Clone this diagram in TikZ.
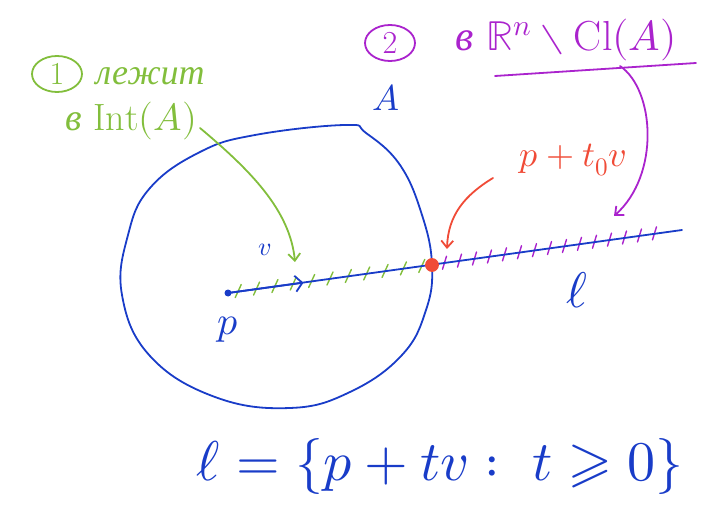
\documentclass[tikz,border=0pt]{standalone}
\usepackage{fontspec}
\usepackage{unicode-math}
\newfontfamily\rufont{Liberation Serif}
\usetikzlibrary{calc,arrows.meta,shapes.geometric}
\definecolor{inkblue}{RGB}{25,60,200}
\definecolor{inkgreen}{RGB}{130,190,60}
\definecolor{inkpurple}{RGB}{170,35,205}
\definecolor{inkred}{RGB}{240,75,55}
\tikzset{
  ink/.style={line width=1.8pt,line cap=round,line join=round},
  barb/.style={-{Straight Barb[length=7pt,width=12pt]}},
  num/.style={ellipse,draw,ink,minimum width=50pt,minimum height=36pt,inner sep=0pt},
}
\newcommand{\sz}[1]{\fontsize{#1}{#1}\selectfont}
\begin{document}
\begin{tikzpicture}[x=1pt,y=-1pt]
  \useasboundingbox (0,0) rectangle (719,518);
  % the set A
  \draw[inkblue,ink] plot[smooth cycle,tension=0.7] coordinates {(150,188) (200,152) (255,135) (345,125) (366,133) (400,165) (422,215) (432,265) (426,310) (402,355) (350,392) (290,408) (215,397) (150,356) (122,295) (128,235)};
  \node[inkblue,font=\sz{36}] (labA) at (386,98) {$A$};
  % the ray l
  \coordinate (p) at (228,293);
  \coordinate (q) at (432,265);
  \coordinate (e) at (682,230);
  \foreach \t in {0.05,0.14,...,0.96}
    \draw[inkgreen,ink,line width=1.4pt] ($(p)!\t!(q)+(-3,6)$) -- ++(6,-13);
  \foreach \t in {0.05,0.11,...,0.94}
    \draw[inkpurple,ink,line width=1.4pt] ($(q)!\t!(e)+(-2,6)$) -- ++(4,-13);
  \draw[inkblue,ink] (p) -- (e);
  \fill[inkblue] (p) circle (3.5);
  \coordinate (vtip) at ($(p)!0.37!(q)$);
  \draw[inkblue,ink,-{Straight Barb[length=7pt,width=16pt]}] (p) -- (vtip);
  \node[inkblue,font=\sz{26}] (labv) at (265,250) {$v$};
  \node[inkblue,font=\sz{40}] (labp) at (228,330) {$p$};
  \node[inkblue,font=\sz{50}] (labl) at (577,290) {$\ell$};
  \draw[inkred,ink,fill=inkred] (q) circle (6);
  % 1: interior part
  \node[num,inkgreen,font=\sz{32}] (one) at (57,74) {1};
  \node[inkgreen,font=\sz{36}\rufont\itshape,anchor=west] (lies) at (92,76) {лежит};
  \node[inkgreen,font=\sz{38},anchor=west] (inA) at (62,121) {{\rufont\itshape в} $\mathrm{Int}(A)$};
  \draw[inkgreen,ink,barb] (200,128) .. controls (250,170) and (290,210) .. (295,262);
  % 2: exterior part
  \node[num,inkpurple,font=\sz{32}] (two) at (390,43) {2};
  \node[inkpurple,font=\sz{42},anchor=west] (outA) at (452,40) {{\rufont\itshape в} $\mathbb{R}^n\setminus\mathrm{Cl}(A)$};
  \draw[inkpurple,ink] (495,76) -- (696,63);
  \draw[inkpurple,ink,barb] (620,66) .. controls (655,90) and (660,175) .. (614,216);
  % boundary point
  \node[inkred,font=\sz{36}] (bp) at (573,160) {$p+t_0v$};
  \draw[inkred,ink,barb] (493,178) .. controls (465,195) and (448,215) .. (447,249);
  % formula
  \node[inkblue,font=\sz{56}] (form) at (440,466) {$\ell=\{p+tv:\ t\geqslant 0\}$};
\end{tikzpicture}
\end{document}
